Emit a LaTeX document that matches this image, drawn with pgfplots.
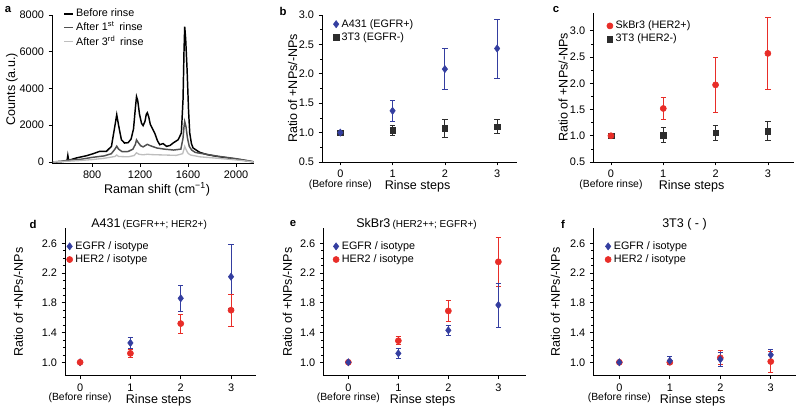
\documentclass[border=0pt]{standalone}
\usepackage{pgfplots}
\pgfplotsset{compat=1.18}
\usepackage{fontspec}
\setmainfont{Liberation Sans}
\definecolor{myblue}{RGB}{52,62,160}
\definecolor{myred}{RGB}{232,45,40}
\definecolor{mydark}{RGB}{45,45,45}
\definecolor{midgray}{RGB}{80,80,80}
\definecolor{lightg}{RGB}{190,190,190}
\pgfplotsset{
  every axis/.append style={
    scale only axis,
    clip=false,
    axis lines*=left,
    tick align=outside,
    major tick length=2.5pt,
    minor tick length=1.5pt,
    tick style={black, line width=0.5pt},
    axis line style={line width=0.6pt},
    /pgf/number format/assume math mode=true,
    tick label style={font=\fontsize{8.2}{9.5}\selectfont},
    label style={font=\fontsize{9.4}{11}\selectfont},
    legend style={draw=none, fill=none, font=\fontsize{8.1}{9}\selectfont, inner sep=1pt, row sep=-1.5pt},
    legend cell align=left,
  },
  rinse/.style={
    xtick={0,1,2,3},
    xticklabels={{0\\[-2.5pt]{\fontsize{7.8}{9}\selectfont (Before rinse)}},1,2,3},
    xticklabel style={align=center},
    xlabel={Rinse steps},
    xlabel style={at={(axis description cs:0.49,0)}, anchor=center, yshift=-18.4pt},
    ylabel={Ratio of +NPs/-NPs},
    yticklabel style={/pgf/number format/.cd, fixed, fixed zerofill, precision=1},
  },
  ylab/.style={ylabel style={at={([xshift=-#1]axis description cs:0,0.5)}, anchor=center}},
  eb/.style={only marks, error bars/y dir=both, error bars/y explicit,
    error bars/error bar style={line width=0.6pt},
    error bars/error mark options={rotate=90, mark size=2pt, line width=0.6pt}},
  bl/.style={eb, color=myblue, mark=diamond*, mark size=2.7pt, mark options={fill=myblue, draw=myblue}},
  rd/.style={eb, color=myred, mark=*, mark size=2.3pt, mark options={fill=myred, draw=myred}},
  sq/.style={eb, color=mydark, mark=square*, mark size=2.1pt, mark options={fill=mydark, draw=mydark}},
}
\begin{document}
\begin{tikzpicture}
\useasboundingbox (0,0) rectangle (600pt,309.75pt);

% ---------- a ----------
\begin{axis}[at={(39pt,187.3pt)}, anchor=south west, width=151.5pt, height=111.2pt,
  xmin=465, xmax=2150, ymin=-70, ymax=8000,
  xtick={800,1200,1600,2000}, ytick={0,2000,4000,6000,8000},
  scaled ticks=false, /pgf/number format/1000 sep={},
  xlabel={Raman shift (cm\textsuperscript{−1})}, ylabel={Counts (a.u.)},
  xlabel style={at={(axis description cs:0.52,0)}, anchor=center, yshift=-19.5pt},
  ylab=30pt,
  legend style={at={(axis description cs:0.05,1.07)}, anchor=north west, row sep=-1.5pt},
  legend image code/.code={\draw[#1, line width=1.1pt] (0cm,0cm) -- (0.22cm,0cm);},
]
\addplot[black, line width=1.1pt] coordinates {
(472,0) (540,20) (590,60) (597,360) (604,90) (669,220) (753,340) (808,450) (864,580)
(919,580) (961,850) (989,1940) (1005,2570) (1022,1940) (1044,1210) (1070,1030)
(1100,1050) (1125,1250) (1145,1800) (1160,2900) (1170,3560) (1180,3350) (1195,2600)
(1212,2100) (1225,1980) (1240,2200) (1252,2600) (1260,2680) (1272,2450) (1285,2050)
(1300,1850) (1322,1570) (1345,1150) (1364,940) (1392,1000) (1420,850) (1450,900)
(1475,1030) (1517,1210) (1544,1570) (1558,3400) (1566,6000) (1572,7370) (1580,6700)
(1592,5000) (1604,2800) (1614,1575) (1628,1000) (1642,760) (1697,525) (1760,400)
(1836,310) (1975,180) (2050,110) (2100,50) (2145,10)};
\addlegendentry{Before rinse}
\addplot[midgray, line width=1.1pt] coordinates {
(472,0) (560,50) (600,100) (700,140) (800,250) (900,330) (960,450) (990,700) (1005,860)
(1020,700) (1050,560) (1100,570) (1140,700) (1160,950) (1170,1200) (1185,1050) (1205,880)
(1225,820) (1245,900) (1260,960) (1280,900) (1300,850) (1340,760) (1400,700) (1480,650)
(1540,700) (1558,1300) (1566,1900) (1572,2200) (1582,1950) (1595,1300) (1610,850)
(1630,650) (1660,520) (1750,420) (1850,310) (2000,180) (2100,70) (2145,10)};
\addlegendentry{After 1\textsuperscript{st}\, rinse}
\addplot[lightg, line width=1pt] coordinates {
(472,0) (600,40) (700,80) (800,130) (900,200) (990,300) (1005,380) (1020,300) (1100,280)
(1150,350) (1170,500) (1190,420) (1225,390) (1260,420) (1300,400) (1400,380) (1500,360)
(1555,450) (1566,700) (1572,850) (1585,650) (1600,470) (1620,380) (1700,280) (1850,200)
(2000,110) (2100,40) (2145,5)};
\addlegendentry{After 3\textsuperscript{rd}\, rinse}
\end{axis}

% ---------- b ----------
\begin{axis}[rinse, ylab=22pt, at={(241.5pt,188.25pt)}, anchor=south west, width=146.25pt, height=110.25pt,
  xmin=-0.35, xmax=3.38, ymin=0.5, ymax=3.0, ytick={0.5,1.0,1.5,2.0,2.5,3.0}, minor y tick num=1,
  reverse legend,
  legend style={at={(axis description cs:0.05,1.0)}, anchor=north west},
]
\addplot[sq] coordinates {(0,1.0) +- (0,0) (1,1.04) +- (0,0.09) (2,1.07) +- (0,0.15) (3,1.10) +- (0,0.12)};
\addlegendentry{3T3 (EGFR-)}
\addplot[bl] coordinates {(0,1.0) +- (0,0) (1,1.37) +- (0,0.185) (2,2.08) +- (0,0.35) (3,2.43) +- (0,0.50)};
\addlegendentry{A431 (EGFR+)}
\end{axis}

% ---------- c ----------
\begin{axis}[rinse, ylab=22.5pt, at={(444.9pt,188.25pt)}, anchor=south west, width=150.6pt, height=111.75pt,
  xmin=-0.34, xmax=3.5, ymin=0.5, ymax=3.34, ytick={0.5,1.0,1.5,2.0,2.5,3.0}, minor y tick num=1,
  reverse legend,
  legend style={at={(axis description cs:0.06,0.975)}, anchor=north west},
]
\addplot[sq] coordinates {(0,1.0) +- (0,0) (1,1.01) +- (0,0.14) (2,1.06) +- (0,0.14) (3,1.09) +- (0,0.18)};
\addlegendentry{3T3 (HER2-)}
\addplot[rd] coordinates {(0,1.0) +- (0,0) (1,1.52) +- (0,0.215) (2,1.97) +- (0,0.525) (3,2.57) +- (0,0.68)};
\addlegendentry{SkBr3 (HER2+)}
\end{axis}

% ---------- d ----------
\begin{axis}[rinse, ylab=35pt, at={(48.75pt,27.98pt)}, anchor=south west, width=143.4pt, height=110.5pt,
  xmin=-0.3, xmax=3.5, ymin=0.82, ymax=2.8, ytick={1.0,1.4,1.8,2.2,2.6}, minor y tick num=3,
  legend style={at={(axis description cs:0.0,0.94)}, anchor=north west},
]
\addplot[bl] coordinates {(0,1.0) +- (0,0) (1,1.26) +- (0,0.08) (2,1.86) +- (0,0.18) (3,2.15) +- (0,0.43)};
\addlegendentry{EGFR / isotype}
\addplot[rd] coordinates {(0,1.0) +- (0,0) (1,1.12) +- (0,0.05) (2,1.52) +- (0,0.125) (3,1.70) +- (0,0.215)};
\addlegendentry{HER2 / isotype}
\node[anchor=base, yshift=0.5pt] at (axis description cs:0.44,1) {\fontsize{9.4}{11}\selectfont A431\,{\fontsize{7.5}{9}\selectfont (EGFR++; HER2+)}};
\end{axis}

% ---------- e ----------
\begin{axis}[rinse, ylab=27pt, at={(242.5pt,27.98pt)}, anchor=south west, width=151.9pt, height=110.5pt,
  xmin=-0.5, xmax=3.55, ymin=0.82, ymax=2.8, ytick={1.0,1.4,1.8,2.2,2.6}, minor y tick num=3,
  reverse legend,
  legend style={at={(axis description cs:0.04,0.94)}, anchor=north west},
]
\addplot[rd] coordinates {(0,1.0) +- (0,0) (1,1.29) +- (0,0.055) (2,1.69) +- (0,0.145) (3,2.35) +- (0,0.335)};
\addlegendentry{HER2 / isotype}
\addplot[bl] coordinates {(0,1.0) +- (0,0) (1,1.12) +- (0,0.065) (2,1.43) +- (0,0.07) (3,1.77) +- (0,0.295)};
\addlegendentry{EGFR / isotype}
\node[anchor=base, yshift=0.5pt] at (axis description cs:0.46,1) {\fontsize{9.4}{11}\selectfont SkBr3\,{\fontsize{7.5}{9}\selectfont (HER2++; EGFR+)}};
\end{axis}

% ---------- f ----------
\begin{axis}[rinse, ylab=28.5pt, at={(445pt,27.98pt)}, anchor=south west, width=152pt, height=110.5pt,
  xmin=-0.515, xmax=3.5, ymin=0.82, ymax=2.8, ytick={1.0,1.4,1.8,2.2,2.6}, minor y tick num=3,
  reverse legend,
  legend style={at={(axis description cs:0.05,0.94)}, anchor=north west},
]
\addplot[rd] coordinates {(0,1.0) +- (0,0) (1,1.0) +- (0,0.03) (2,1.06) +- (0,0.095) (3,1.01) +- (0,0.14)};
\addlegendentry{HER2 / isotype}
\addplot[bl] coordinates {(0,1.0) +- (0,0) (1,1.02) +- (0,0.055) (2,1.04) +- (0,0.095) (3,1.10) +- (0,0.07)};
\addlegendentry{EGFR / isotype}
\node[anchor=base, yshift=0.5pt] at (axis description cs:0.45,1) {\fontsize{9.4}{11}\selectfont 3T3 ( - )};
\end{axis}

% panel letters
\begin{scope}[every node/.style={font=\bfseries\fontsize{8.5}{9}\selectfont}]
\node at (6pt,302.25pt) {a};
\node at (212.25pt,301.5pt) {b};
\node at (417pt,302.25pt) {c};
\node at (24.75pt,141.75pt) {d};
\node at (219.75pt,141.75pt) {e};
\node at (422.25pt,141.75pt) {f};
\end{scope}
\end{tikzpicture}
\end{document}
